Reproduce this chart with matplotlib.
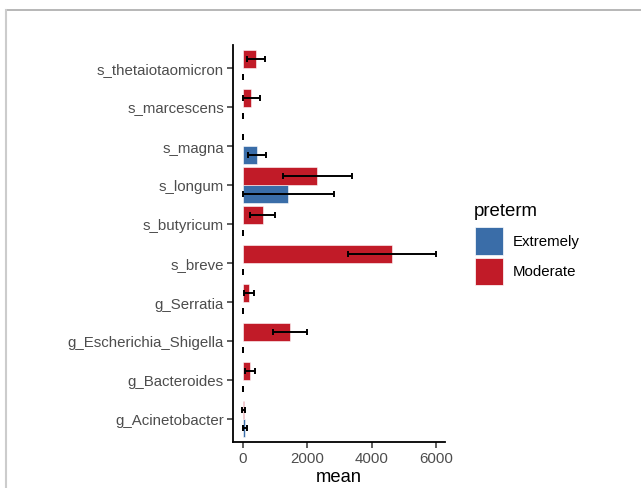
import matplotlib.pyplot as plt
from matplotlib.lines import Line2D
from matplotlib.patches import Rectangle
import numpy as np

plt.rcParams['font.family'] = ['Liberation Sans', 'DejaVu Sans']

# data, bottom to top as on the chart
taxa = ['g_Acinetobacter', 'g_Bacteroides', 'g_Escherichia_Shigella', 'g_Serratia',
        's_breve', 's_butyricum', 's_longum', 's_magna', 's_marcescens',
        's_thetaiotaomicron']
groups = ['Extremely', 'Moderate']
extremely_mean = [65, 0, 0, 0, 0, 0, 1408, 445, 0, 0]
extremely_se = [65, 0, 0, 0, 0, 0, 1418, 275, 0, 0]
moderate_mean = [20, 217, 1460, 197, 4618, 611, 2308, 0, 260, 405]
moderate_se = [40, 165, 528, 155, 1367, 390, 1080, 0, 260, 290]
xticks = [0, 2000, 4000, 6000]

colors = {'Extremely': '#3A6DA8', 'Moderate': '#C11B28'}
W, H = 641, 489

fig = plt.figure(figsize=(W / 100, H / 100), dpi=100)
ax = fig.add_axes([233 / W, 1 - 443.4 / H, (445 - 233) / W, (443.4 - 45.6) / H])

y = np.arange(len(taxa))
h = 0.45
for g, m, s, off in [('Extremely', extremely_mean, extremely_se, -h / 2),
                     ('Moderate', moderate_mean, moderate_se, h / 2)]:
    ax.barh(y + off, m, height=h, color=colors[g], edgecolor='white', linewidth=0.4)
    ax.errorbar(m, y + off, xerr=s, fmt='none', ecolor='black', elinewidth=1.4,
                capsize=2.5, capthick=1.4)

ax.set_xlim(-310, 6275)
ax.set_ylim(-0.6, len(taxa) - 0.4)
ax.set_yticks(y)
ax.set_yticklabels(taxa)
ax.set_xticks(xticks)
ax.set_xticklabels([str(t) for t in xticks])
ax.set_xlabel('mean', fontsize=13.2, color='black', labelpad=2)
for side in ['top', 'right']:
    ax.spines[side].set_visible(False)
for side in ['left', 'bottom']:
    ax.spines[side].set_linewidth(1.3)
ax.tick_params(axis='both', labelsize=10.8, labelcolor='#4D4D4D', color='#333333',
               length=4, width=1.1, pad=2.5)

# legend drawn by hand, in pixel coordinates
def fx(px):
    return px / W

def fy(py):
    return 1 - py / H

fig.text(fx(474), fy(211), 'preterm', fontsize=13.4, va='center', ha='left')
for i, g in enumerate(groups):
    top = 228 + i * 30.5
    fig.add_artist(Rectangle((fx(475), fy(top + 27.5)), 27.5 / W, 27.5 / H,
                             transform=fig.transFigure, facecolor=colors[g],
                             edgecolor='white', linewidth=0.5))
    fig.text(fx(513), fy(top + 14), g, fontsize=10.8, va='center', ha='left')

# screenshot frame
fig.add_artist(Line2D([fx(5.5), 1], [fy(10.5), fy(10.5)], transform=fig.transFigure,
                      color='#aaaaaa', linewidth=1.2))
fig.add_artist(Line2D([fx(5.5), fx(5.5)], [0, fy(10.5)], transform=fig.transFigure,
                      color='#cccccc', linewidth=1.5))

fig.savefig('out.png', dpi=100)
